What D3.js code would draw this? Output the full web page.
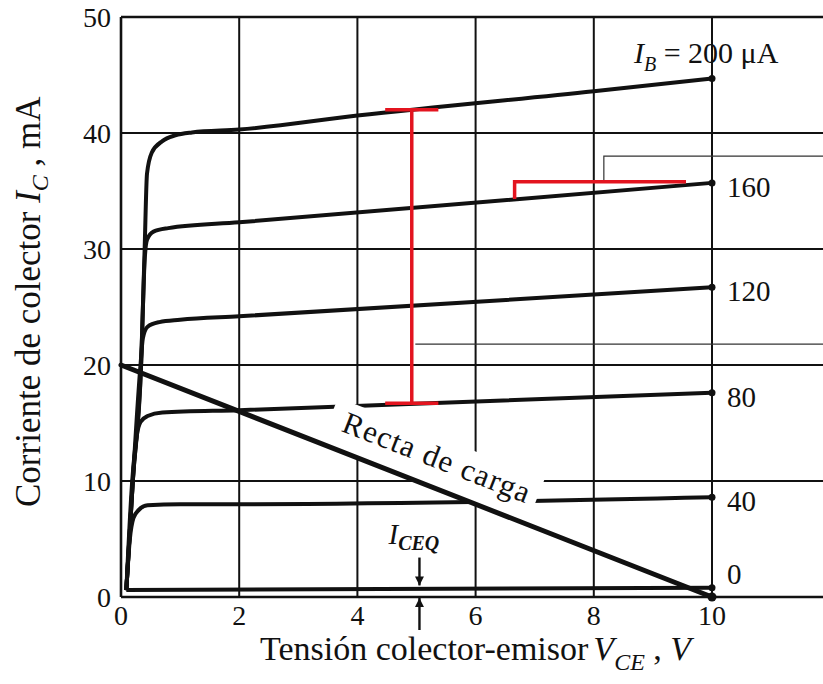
<!DOCTYPE html>
<html lang="es">
    <head>
        <title>Curvas del transistor</title>
        <meta charset="UTF-8">
        <script src="https://cdn.jsdelivr.net/npm/d3@7"></script>
    </head>
    <body style="margin:0;background:#fff">
        <style>
    text { font-family: "Liberation Serif", "DejaVu Serif", serif; fill: #111; }
        </style>
        <div id="root"></div>
<script>

var width = 823
var height = 684

// ticks
var vceTicks = [0, 2, 4, 6, 8, 10]
var icTicks = [0, 10, 20, 30, 40, 50]

// IB curves (VCE in V, IC in mA)
var ibNames = ['200', '160', '120', '80', '40', '0']
var curve200 = [[0.09, 0.6], [0.2, 10], [0.34, 20], [0.4, 30], [0.44, 36.5], [0.52, 38.3], [0.7, 39.3], [0.92, 39.8], [1.2, 40.05], [2, 40.3], [4, 41.5], [8, 43.6], [10, 44.7]]
var curve160 = [[0.09, 0.6], [0.2, 10], [0.34, 20], [0.4, 29], [0.44, 30.8], [0.55, 31.5], [0.8, 31.8], [2, 32.3], [10, 35.7]]
var curve120 = [[0.09, 0.6], [0.2, 10], [0.33, 20], [0.37, 22.3], [0.45, 23.3], [0.65, 23.7], [1, 23.9], [2, 24.2], [10, 26.7]]
var curve80 = [[0.09, 0.6], [0.19, 10], [0.27, 14], [0.33, 15.1], [0.45, 15.6], [0.7, 15.9], [2, 16.1], [10, 17.6]]
var curve40 = [[0.09, 0.6], [0.15, 5], [0.21, 6.8], [0.3, 7.5], [0.45, 7.9], [1, 8], [2, 8], [10, 8.6]]
var curve0 = [[0.09, 0.6], [10, 0.8]]
var curves = [curve200, curve160, curve120, curve80, curve40, curve0]

// load line
var loadVce = [0, 10]
var loadIc = [20, 0]

// red marks
var redBarVce = 4.92
var redBarIc = [42.0, 16.7]
var redCapVce = [4.47, 5.37]
var redStepVce = [6.66, 9.56]
var redStepIc = [34.3, 35.8]

// thin callout lines
var boxVce = 8.17
var boxIc = [35.8, 38.0]
var lowLineVce = 4.98
var lowLineIc = 21.8

// I_CEQ marker
var iceqVce = 5.05
var iceqArrowIc = [3.4, 1.0]

var svg = d3.select('#root')
            .append('svg')
            .attr('width', width)
            .attr('height', height)

var x = d3.scaleLinear().domain([0, 10]).range([121, 712])
var y = d3.scaleLinear().domain([0, 50]).range([597, 17])
var xEnd = x.invert(width)

var ink = '#111'
var red = '#e3141f'

// grid
svg.append('g')
    .selectAll('line')
    .data(icTicks)
    .enter()
    .append('line')
        .attr('x1', x(0)).attr('x2', width)
        .attr('y1', function(d){ return y(d) })
        .attr('y2', function(d){ return y(d) })
        .attr('stroke', ink)
        .attr('stroke-width', function(d){ return d == 0 || d == 50 ? 2.6 : 2 })

svg.append('g')
    .selectAll('line')
    .data(vceTicks)
    .enter()
    .append('line')
        .attr('x1', function(d){ return x(d) })
        .attr('x2', function(d){ return x(d) })
        .attr('y1', y(50)).attr('y2', y(0))
        .attr('stroke', ink)
        .attr('stroke-width', function(d){ return d == 0 ? 2.6 : 2 })

// thin callout lines
var thin = d3.line().x(function(d){ return x(d[0]) }).y(function(d){ return y(d[1]) })
svg.append('path')
    .attr('d', thin([[boxVce, boxIc[0]], [boxVce, boxIc[1]], [xEnd, boxIc[1]]]))
    .attr('fill', 'none').attr('stroke', '#333').attr('stroke-width', 1.2)
svg.append('path')
    .attr('d', thin([[lowLineVce, lowLineIc], [xEnd, lowLineIc]]))
    .attr('fill', 'none').attr('stroke', '#333').attr('stroke-width', 1.2)

// IB curves
var line = d3.line()
             .x(function(d){ return x(d[0]) })
             .y(function(d){ return y(d[1]) })
             .curve(d3.curveMonotoneX)

svg.append('g')
    .selectAll('path')
    .data(curves)
    .enter()
    .append('path')
        .attr('d', line)
        .attr('fill', 'none')
        .attr('stroke', ink)
        .attr('stroke-width', 4)
        .attr('stroke-linejoin', 'round')

svg.append('g')
    .selectAll('circle')
    .data(curves)
    .enter()
    .append('circle')
        .attr('cx', function(d){ return x(d[d.length - 1][0]) })
        .attr('cy', function(d){ return y(d[d.length - 1][1]) })
        .attr('r', 3.5)
        .attr('fill', ink)

// label on the load line, with its white band
var p0 = [x(loadVce[0]), y(loadIc[0])]
var p1 = [x(loadVce[1]), y(loadIc[1])]
var ang = Math.atan2(p1[1] - p0[1], p1[0] - p0[0]) * 180 / Math.PI
var tag = svg.append('g')
             .attr('transform', 'translate(' + p0[0] + ',' + p0[1] + ') rotate(' + ang + ')')
tag.append('rect')
    .attr('x', 214).attr('y', -49)
    .attr('width', 222).attr('height', 49)
    .attr('fill', '#fff')
tag.append('text')
    .attr('x', 228).attr('y', -19)
    .attr('font-size', 31)
    .attr('textLength', 199)
    .attr('lengthAdjust', 'spacing')
    .text('Recta de carga')

svg.append('path')
    .attr('d', thin(loadVce.map(function(v, i){ return [v, loadIc[i]] })))
    .attr('stroke', ink)
    .attr('stroke-width', 5)
    .attr('stroke-linecap', 'round')
svg.append('circle')
    .attr('cx', p1[0]).attr('cy', p1[1]).attr('r', 4.5).attr('fill', ink)

// red marks
var redG = svg.append('g')
              .attr('stroke', red)
              .attr('stroke-width', 3.5)
              .attr('fill', 'none')
redG.append('line')
    .attr('x1', x(redBarVce)).attr('x2', x(redBarVce))
    .attr('y1', y(redBarIc[0])).attr('y2', y(redBarIc[1]))
redG.selectAll('.cap')
    .data(redBarIc)
    .enter()
    .append('line')
        .attr('class', 'cap')
        .attr('x1', x(redCapVce[0])).attr('x2', x(redCapVce[1]))
        .attr('y1', function(d){ return y(d) })
        .attr('y2', function(d){ return y(d) })
redG.append('path')
    .attr('d', thin([[redStepVce[0], redStepIc[0]], [redStepVce[0], redStepIc[1]], [redStepVce[1], redStepIc[1]]]))

// I_CEQ arrows
var defs = svg.append('defs')
defs.append('marker')
    .attr('id', 'head')
    .attr('viewBox', '0 0 10 10')
    .attr('refX', 10).attr('refY', 5)
    .attr('markerWidth', 13).attr('markerHeight', 9)
    .attr('markerUnits', 'userSpaceOnUse')
    .attr('orient', 'auto')
  .append('path')
    .attr('d', 'M0,0 L10,5 L0,10 Z')
    .attr('fill', ink)

svg.append('line')
    .attr('x1', x(iceqVce)).attr('x2', x(iceqVce))
    .attr('y1', y(iceqArrowIc[0])).attr('y2', y(iceqArrowIc[1]))
    .attr('stroke', ink).attr('stroke-width', 2.4)
    .attr('marker-end', 'url(#head)')
svg.append('line')
    .attr('x1', x(iceqVce)).attr('x2', x(iceqVce))
    .attr('y1', y(0) + 33).attr('y2', y(0) + 1)
    .attr('stroke', ink).attr('stroke-width', 2.4)
    .attr('marker-end', 'url(#head)')

var iceq = svg.append('text')
              .attr('x', x(iceqVce) - 31)
              .attr('y', y(iceqArrowIc[0]) - 14)
              .attr('font-style', 'italic')
iceq.append('tspan').attr('font-size', 29).text('I')
iceq.append('tspan').attr('font-size', 20).attr('font-weight', 'bold').attr('dy', 6).text('CEQ')

// tick labels
svg.append('g')
    .selectAll('text')
    .data(icTicks)
    .enter()
    .append('text')
        .attr('x', x(0) - 10)
        .attr('y', function(d){ return y(d) })
        .attr('dy', '0.35em')
        .attr('text-anchor', 'end')
        .attr('font-size', 28)
        .text(function(d){ return d })

svg.append('g')
    .selectAll('text')
    .data(vceTicks)
    .enter()
    .append('text')
        .attr('x', function(d){ return x(d) })
        .attr('y', y(0) + 28)
        .attr('text-anchor', 'middle')
        .attr('font-size', 28)
        .text(function(d){ return d })

// IB labels at the right end
svg.append('g')
    .selectAll('text')
    .data(curves.slice(1))
    .enter()
    .append('text')
        .attr('x', x(10) + 15)
        .attr('y', function(d, i){ return y(d[d.length - 1][1]) + (i == 4 ? -14 : 4) })
        .attr('dy', '0.35em')
        .attr('font-size', 29)
        .text(function(d, i){ return ibNames[i + 1] })

var ibTitle = svg.append('text')
                 .attr('x', x(8.68))
                 .attr('y', y(46))
                 .attr('font-size', 30)
ibTitle.append('tspan').attr('font-style', 'italic').text('I')
ibTitle.append('tspan').attr('font-style', 'italic').attr('font-size', 20).attr('dy', 8).text('B')
ibTitle.append('tspan').attr('dy', -8).text(' = ' + ibNames[0] + ' \u03bcA')

// axis titles
var yTitle = svg.append('text')
                .attr('transform', 'translate(40,507) rotate(-90)')
                .attr('font-size', 35)
yTitle.append('tspan').text('Corriente de colector ')
yTitle.append('tspan').attr('font-style', 'italic').text('I')
yTitle.append('tspan').attr('font-style', 'italic').attr('font-size', 24).attr('dy', 8).text('C')
yTitle.append('tspan').attr('dy', -8).text(' , mA')

var xTitle = svg.append('text')
                .attr('x', 260)
                .attr('y', 660)
                .attr('font-size', 34)
xTitle.append('tspan').text('Tensión colector-emisor')
xTitle.append('tspan').attr('font-style', 'italic').attr('dx', 5).text('V')
xTitle.append('tspan').attr('font-style', 'italic').attr('font-size', 24).attr('dy', 10).text('CE')
xTitle.append('tspan').attr('dy', -10).text(' , ')
xTitle.append('tspan').attr('font-style', 'italic').text('V')

</script>
    </body>
</html>
